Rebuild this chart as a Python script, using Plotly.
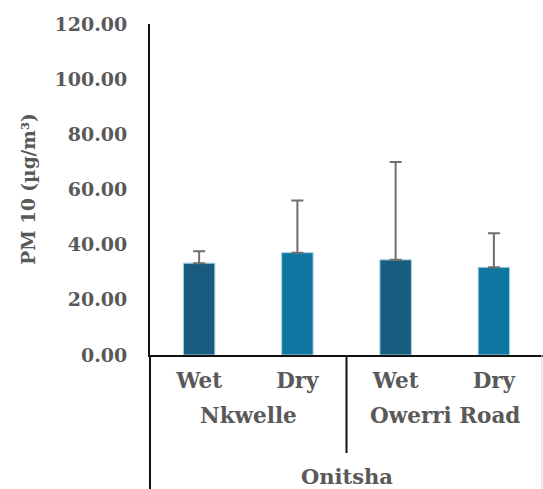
import plotly.graph_objects as go

# PM10 concentrations (µg/m³) at two Onitsha sites, by season
sites = ["Nkwelle", "Nkwelle", "Owerri Road", "Owerri Road"]
seasons = ["Wet", "Dry", "Wet", "Dry"]
pm10_mean = [33.3, 37.1, 34.5, 31.8]
pm10_err = [4.3, 18.9, 35.5, 12.3]
city = "Onitsha"
y_ticks = [0, 20, 40, 60, 80, 100, 120]

season_colors = {"Wet": "#185d80", "Dry": "#0e76a0"}
text_color = "#595959"
font_family = "DejaVu Serif"

positions = list(range(len(seasons)))

fig = go.Figure()
fig.add_trace(go.Bar(
    x=positions,
    y=pm10_mean,
    width=0.32,
    marker=dict(color=[season_colors[s] for s in seasons],
                line=dict(color="#a8d2e4", width=1)),
    error_y=dict(type="data", array=pm10_err, arrayminus=[0] * len(pm10_err),
                 symmetric=False, color="#6f6f6f", thickness=2, width=6),
    hoverinfo="skip",
))

# site labels centred under each pair of bars
site_names = list(dict.fromkeys(sites))
annotations = []
for name in site_names:
    idx = [i for i, s in enumerate(sites) if s == name]
    annotations.append(dict(
        x=sum(idx) / len(idx), xref="x", y=-0.184, yref="paper",
        text=f"<b>{name}</b>", showarrow=False,
        xanchor="center", yanchor="middle",
        font=dict(family=font_family, size=21.5, color=text_color)))

# city label under both sites
annotations.append(dict(
    x=(positions[0] + positions[-1]) / 2, xref="x", y=-0.368, yref="paper",
    text=f"<b>{city}</b>", showarrow=False, xanchor="center", yanchor="middle",
    font=dict(family=font_family, size=21, color=text_color)))

# rotated y-axis title
annotations.append(dict(
    x=-0.31, xref="paper", y=0.5, yref="paper",
    text="<b>PM 10 (µg/m³)</b>", textangle=-90, showarrow=False,
    xanchor="center", yanchor="middle",
    font=dict(family=font_family, size=18.5, color=text_color)))

shapes = [
    # y-axis line carried down through the category label area
    dict(type="line", xref="paper", yref="paper", x0=0, x1=0, y0=0, y1=-0.45,
         line=dict(color="#111111", width=2)),
    # divider between the two sites
    dict(type="line", xref="x", yref="paper", x0=1.5, x1=1.5, y0=0, y1=-0.296,
         line=dict(color="#111111", width=2)),
    # faint right border of the label area
    dict(type="line", xref="paper", yref="paper", x0=0.997, x1=0.997, y0=0, y1=-0.45,
         line=dict(color="#d6d6d6", width=1)),
]

fig.update_layout(
    width=543, height=489,
    margin=dict(l=150, r=0, t=24, b=134),
    paper_bgcolor="white", plot_bgcolor="white",
    showlegend=False,
    annotations=annotations,
    shapes=shapes,
    xaxis=dict(
        range=[-0.5, len(seasons) - 0.5],
        tickmode="array", tickvals=positions,
        ticktext=[f"<b>{s}</b>" for s in seasons],
        ticks="", ticklabelstandoff=5,
        showline=True, linecolor="#111111", linewidth=2,
        showgrid=False, zeroline=False,
        tickfont=dict(family=font_family, size=21.5, color=text_color),
    ),
    yaxis=dict(
        range=[0, 120], tickmode="array", tickvals=y_ticks,
        ticktext=[f"<b>{v:.2f}</b>" for v in y_ticks],
        ticks="", ticklabelstandoff=17,
        showline=True, linecolor="#111111", linewidth=2,
        showgrid=False, zeroline=False,
        tickfont=dict(family=font_family, size=19, color=text_color),
    ),
)

fig.write_html("out.html")
